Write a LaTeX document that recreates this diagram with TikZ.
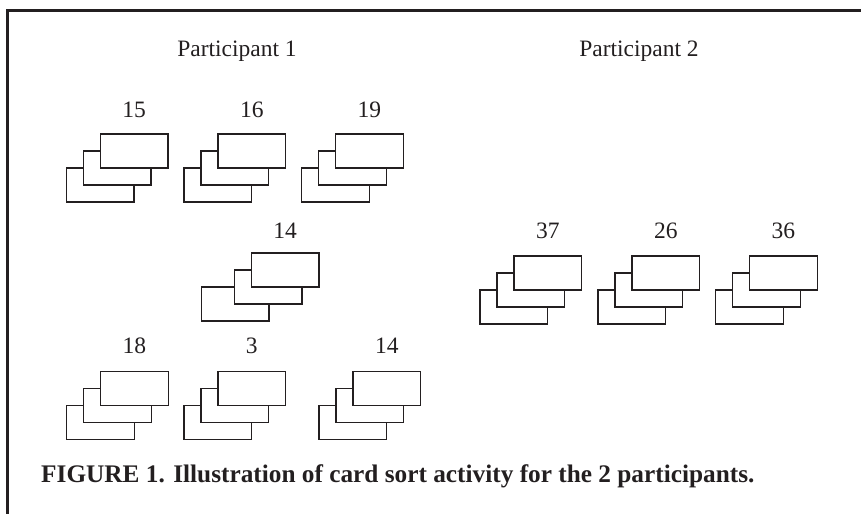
\documentclass[tikz,border=0pt]{standalone}
\usepackage{fontspec}
\setmainfont{Liberation Serif}
\definecolor{ink}{HTML}{231F20}
% One pile of three cards: #1 name, (#2,#3) top-left of the front card,
% #4 number printed above the pile, #5 baseline of that number,
% #6 how far left of the front card the back card sits
\newcommand\cardpile[6]{%
  \node[card] (#1-back)  at (#2-#6,#3+34) {};
  \node[card] (#1-mid)   at (#2-17,#3+17) {};
  \node[card] (#1-front) at (#2,#3) {};
  \node[pilenum] (#1-num) at (#1-front.north |- 0,#5) {#4};
}
\begin{document}
\begin{tikzpicture}[x=1pt,y=-1pt,
  card/.style={draw=ink, line width=1.3pt, fill=white,
    minimum width=67.6pt, minimum height=34pt, inner sep=0pt,
    anchor=north west},
  pilenum/.style={font=\fontsize{23.5}{28}\selectfont, text=ink,
    anchor=base, inner sep=0pt},
  heading/.style={font=\fontsize{23.5}{28}\selectfont, text=ink,
    anchor=base, inner sep=0pt},
  caption/.style={font=\bfseries\fontsize{25.3}{30}\selectfont, text=ink,
    anchor=base west, inner sep=0pt},
  frame/.style={draw=ink, line width=2.4pt}]
\useasboundingbox (0,0) rectangle (861,514);

% frame: top and left rules
\coordinate (fcorner) at (7.3,10.5);
\coordinate (ftop) at (861,10.5);
\coordinate (fbottom) at (7.3,514);
\draw[frame] (ftop) -- (fcorner) -- (fbottom);

% headings
\node[heading] (p1) at (237,56.7) {Participant 1};
\node[heading] (p2) at (639,56.7) {Participant 2};

% Participant 1
\cardpile{a}{99.7}{133.3}{15}{117.8}{34}
\cardpile{b}{217.3}{133.3}{16}{117.8}{34}
\cardpile{c}{335}{133.3}{19}{117.8}{34}
\cardpile{d}{250.7}{252.3}{14}{238.8}{50}
\cardpile{e}{100}{370.7}{18}{353.5}{34}
\cardpile{f}{217.3}{370.7}{3}{353.5}{34}
\cardpile{g}{352.3}{370.7}{14}{353.5}{34}

% Participant 2
\cardpile{h}{513.3}{255.3}{37}{238.8}{34}
\cardpile{i}{631.3}{255.3}{26}{238.8}{34}
\cardpile{j}{749}{255.3}{36}{238.8}{34}

% caption
\node[caption] (cap) at (41,482) {FIGURE 1. Illustration of card sort activity for the 2 participants.};
\end{tikzpicture}
\end{document}
